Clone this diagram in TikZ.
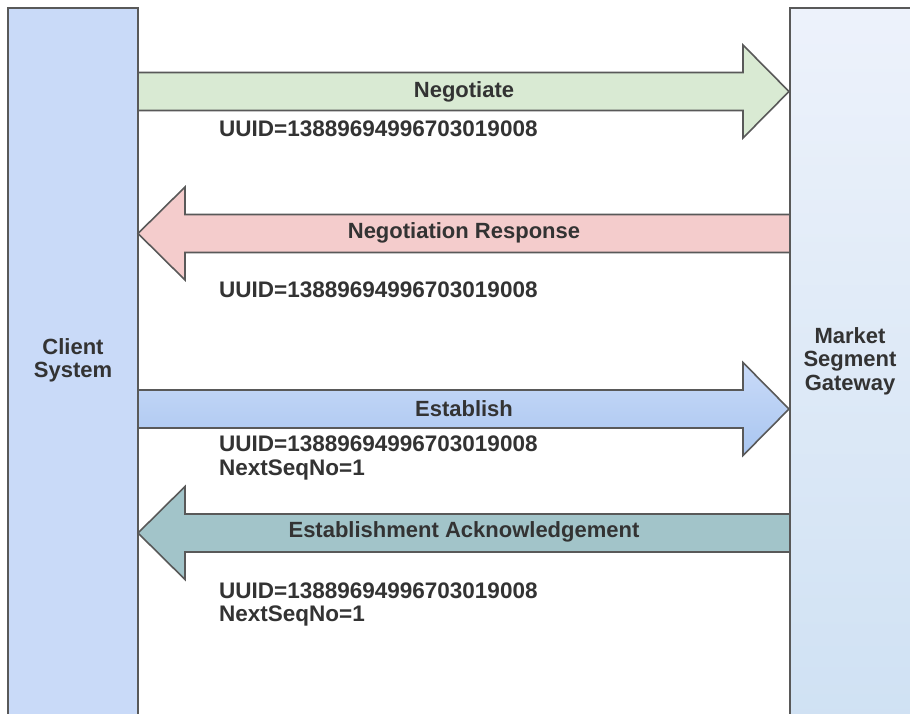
\documentclass[tikz,border=0pt]{standalone}
\usepackage{fontspec}
\setmainfont{Liberation Sans}
\begin{document}
\definecolor{edge}{HTML}{595959}
\definecolor{ink}{HTML}{333333}
\definecolor{clientfill}{HTML}{C9DAF8}
\definecolor{gwtop}{HTML}{EDF2FB}
\definecolor{gwbot}{HTML}{CFE1F3}
\definecolor{negfill}{HTML}{D9EAD3}
\definecolor{respfill}{HTML}{F4CCCC}
\definecolor{esttop}{HTML}{C9DAF8}
\definecolor{estbot}{HTML}{A9C6F0}
\definecolor{ackfill}{HTML}{A2C4C9}
\begin{tikzpicture}[x=1pt,y=-1pt,
  txt/.style={text=ink,font=\bfseries\fontsize{22}{23.6}\selectfont,inner sep=0pt},
  lane/.style={draw=edge,line width=1.8pt},
  blockarrow/.style={draw=edge,line width=1.6pt,line join=miter},
  msg/.style={txt,font=\bfseries\fontsize{22.5}{23.6}\selectfont,anchor=west,align=left}]
\useasboundingbox (0,0) rectangle (910,714);
\clip (0,0) rectangle (910,714);
\fill[white] (0,0) rectangle (910,714);

% participant lanes
\path[lane,fill=clientfill] (8,8) rectangle (138,730);
\path[lane,top color=gwtop,bottom color=gwbot] (790,8) rectangle (930,730);
\node[txt,align=center] (client) at (73,360.5) {Client\\System};
\node[txt,align=center] (gateway) at (850,361) {Market\\Segment\\Gateway};

% Negotiate (client -> gateway)
\path[blockarrow,fill=negfill]
  (138,72.5) -- (743,72.5) -- (743,45) -- (789,91.5) -- (743,138) -- (743,110.5) -- (138,110.5) -- cycle;
\node[txt] (neg) at (464,91.5) {Negotiate};
\node[msg] (negmsg) at (219,128.5) {UUID=13889694996703019008};

% Negotiation Response (gateway -> client)
\path[blockarrow,fill=respfill]
  (790,214.5) -- (185,214.5) -- (185,187) -- (138,233.5) -- (185,280) -- (185,252.5) -- (790,252.5) -- cycle;
\node[txt] (resp) at (464,232.5) {Negotiation Response};
\node[msg] (respmsg) at (219,289.5) {UUID=13889694996703019008};

% Establish (client -> gateway)
\path[blockarrow,top color=esttop,bottom color=estbot]
  (138,390) -- (743,390) -- (743,362.5) -- (789,409) -- (743,455.5) -- (743,428) -- (138,428) -- cycle;
\node[txt] (est) at (464,408.5) {Establish};
\node[msg] (estmsg) at (219,458) {UUID=13889694996703019008\\NextSeqNo=1};

% Establishment Acknowledgement (gateway -> client)
\path[blockarrow,fill=ackfill]
  (790,514) -- (185,514) -- (185,486.5) -- (138,533) -- (185,579.5) -- (185,552) -- (790,552) -- cycle;
\node[txt] (ack) at (464,532) {Establishment Acknowledgement};
\node[msg] (ackmsg) at (219,604.5) {UUID=13889694996703019008\\NextSeqNo=1};
\end{tikzpicture}
\end{document}
